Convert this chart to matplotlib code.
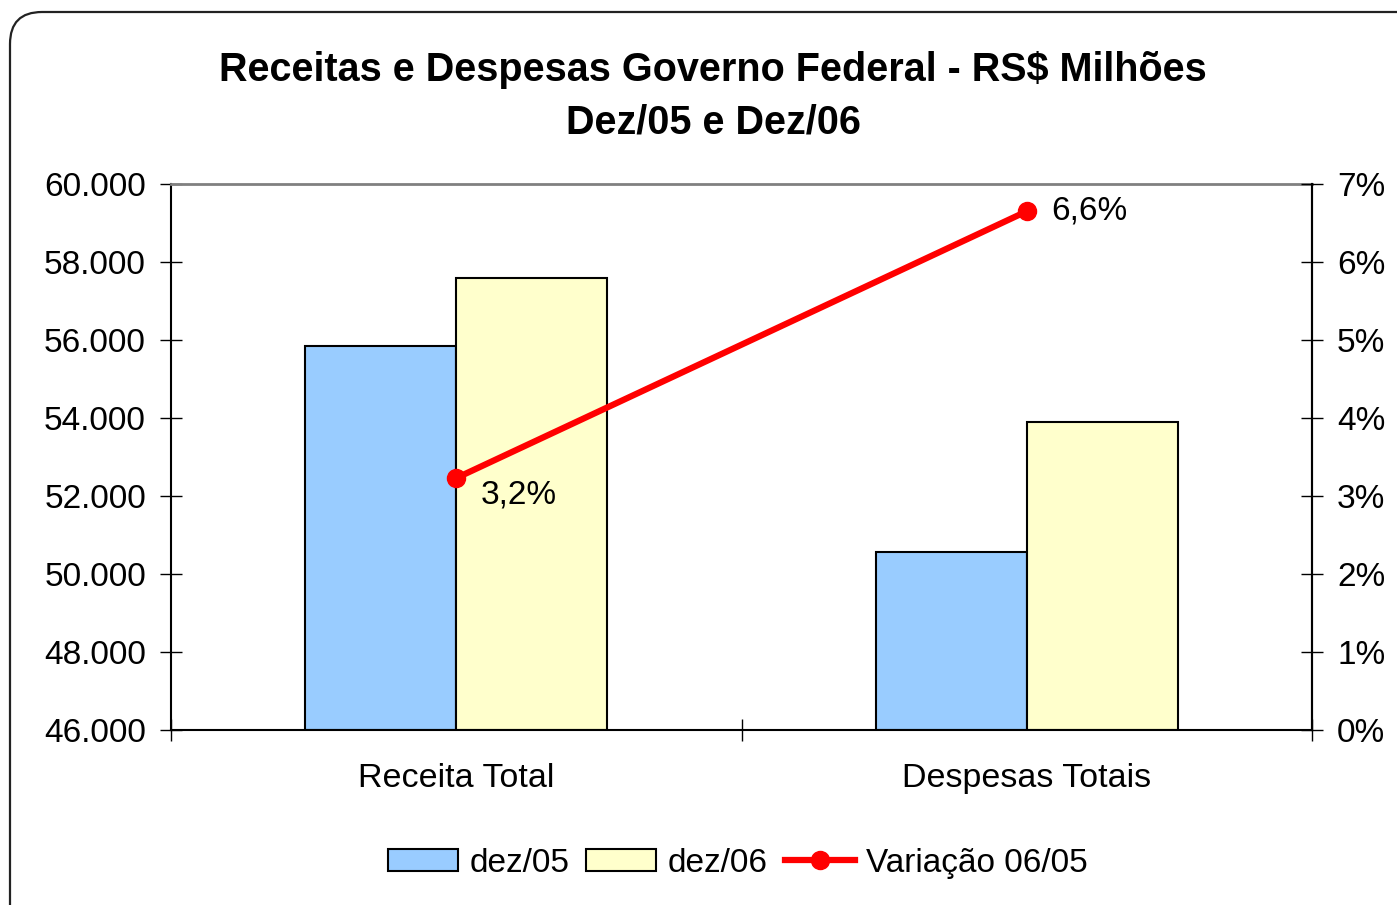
import matplotlib
matplotlib.use("Agg")
import matplotlib.pyplot as plt
from matplotlib.patches import FancyBboxPatch
import numpy as np

categories = ["Receita Total", "Despesas Totais"]
dez05 = [55850, 50570]
dez06 = [57590, 53890]
variacao = [3.23, 6.65]
variacao_labels = ["3,2%", "6,6%"]
left_ticks = [46000, 48000, 50000, 52000, 54000, 56000, 58000, 60000]
left_tick_labels = ["46.000", "48.000", "50.000", "52.000", "54.000", "56.000", "58.000", "60.000"]
right_ticks = [0, 1, 2, 3, 4, 5, 6, 7]
right_tick_labels = ["0%", "1%", "2%", "3%", "4%", "5%", "6%", "7%"]
title = "Receitas e Despesas Governo Federal - RS$ Milhões\nDez/05 e Dez/06"

plt.rcParams['font.family'] = ['Liberation Sans', 'DejaVu Sans']

fig = plt.figure(figsize=(13.97, 9.05), dpi=100)
border = FancyBboxPatch((10, -40), 1440, 933, boxstyle="round,pad=0,rounding_size=32",
                        transform=None, facecolor="none", edgecolor="#222222", linewidth=1.6, zorder=-10)
fig.patches.append(border)

ax = fig.add_axes([171/1397, 1-730/905, (1312-171)/1397, (730-184)/905])
ax.set_facecolor("none")
x = np.arange(len(categories))
w = 0.265
ax.bar(x - w/2, [v - 46000 for v in dez05], w, bottom=46000, color="#99CCFF", edgecolor="black", linewidth=1.5, label="dez/05", zorder=2)
ax.bar(x + w/2, [v - 46000 for v in dez06], w, bottom=46000, color="#FFFFCC", edgecolor="black", linewidth=1.5, label="dez/06", zorder=2)
ax.set_xlim(-0.5, 1.5)
ax.set_ylim(46000, 60000)
ax.set_yticks(left_ticks)
ax.set_yticklabels(left_tick_labels)
ax.set_xticks([-0.5, 0.5, 1.5])
ax.set_xticklabels([])
ax.set_xticks(x, minor=True)
ax.set_xticklabels(categories, minor=True)
ax.tick_params(axis="x", which="minor", length=0, pad=24, labelsize=24.5)
ax.tick_params(axis="x", which="major", direction="inout", length=16, width=1)
ax.tick_params(axis="y", direction="inout", length=16, width=1, labelsize=24, pad=10)
for s in ["left", "bottom", "right"]:
    ax.spines[s].set_color("black")
    ax.spines[s].set_linewidth(1.5)
ax.spines["top"].set_color("#808080")
ax.spines["top"].set_linewidth(2)

ax2 = ax.twinx()
ax2.set_ylim(0, 7)
ax2.set_yticks(right_ticks)
ax2.set_yticklabels(right_tick_labels)
ax2.tick_params(axis="y", direction="inout", length=16, width=1, labelsize=24, pad=10)
ax2.plot(x, variacao, color="#FF0000", linewidth=4.5, marker="o", markersize=13, label="Variação 06/05", zorder=5)
ax2.spines["right"].set_color("black")
ax2.spines["right"].set_linewidth(1.5)
ax2.spines["top"].set_visible(False)
ax2.spines["left"].set_visible(False)
ax2.spines["bottom"].set_visible(False)
offsets = [(45, -12), (45, 0)]
for xi, v, lab, off in zip(x, variacao, variacao_labels, offsets):
    ax2.annotate(lab, (xi, v), xytext=off, textcoords="offset points", ha="center", va="center", fontsize=24)

fig.suptitle(title, fontsize=28.5, fontweight="bold", x=713/1397, y=1-51/905, va="top", linespacing=1.5)

h1, l1 = ax.get_legend_handles_labels()
h2, l2 = ax2.get_legend_handles_labels()
fig.legend(h1 + h2, l1 + l2, loc="center", bbox_to_anchor=(738/1397, 1-863/905), ncol=3, frameon=False,
           fontsize=24, handlelength=2.1, handleheight=0.65, handletextpad=0.35, columnspacing=0.5)

fig.savefig("out.png", dpi=100)
